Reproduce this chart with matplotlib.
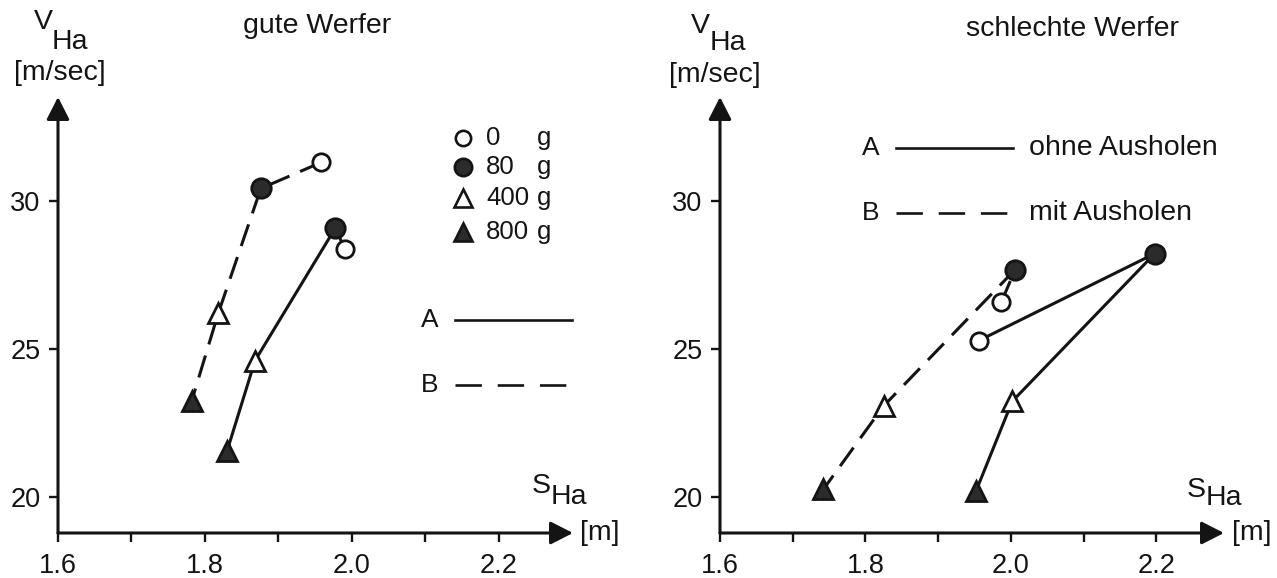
import matplotlib.pyplot as plt

plt.rcParams["font.family"] = ["Liberation Sans", "DejaVu Sans"]
plt.rcParams["font.size"] = 20.5

INK = "#141414"
DARK = "#2b2b2b"

# Zusatzgewichte (g) in der Reihenfolge der Messpunkte
weights = [0, 80, 400, 800]

# gute Werfer: Weg S_Ha [m] und Geschwindigkeit V_Ha [m/sec]
gute_a_s = [1.991, 1.977, 1.868, 1.830]
gute_a_v = [28.36, 29.07, 24.60, 21.55]
gute_b_s = [1.958, 1.876, 1.818, 1.782]
gute_b_v = [31.30, 30.42, 26.20, 23.25]

# schlechte Werfer
schlechte_a_s = [1.956, 2.198, 2.002, 1.952]
schlechte_a_v = [25.28, 28.22, 23.23, 20.19]
schlechte_b_s = [1.987, 2.006, 1.825, 1.742]
schlechte_b_v = [26.58, 27.68, 23.07, 20.25]

x_ticks = [1.6, 1.7, 1.8, 1.9, 2.0, 2.1, 2.2]
x_labels = ["1.6", "", "1.8", "", "2.0", "", "2.2"]
y_ticks = [20, 25, 30]

# marker style per weight: (shape, face colour, size)
marker_style = {
    0: ("o", "white", 12.5),
    80: ("o", DARK, 14),
    400: ("^", "white", 14),
    800: ("^", DARK, 14),
}

DASH = (7.5, 3.8)

W, H = 1277, 578
fig = plt.figure(figsize=(W / 100, H / 100), dpi=100)
fig.patch.set_facecolor("white")


def fx(px):
    return px / W


def fy(py):
    return 1 - py / H


def setup_axes(ax, xmax):
    ax.set_xlim(1.6, xmax)
    ax.set_ylim(18.78, 33.51)
    for side in ax.spines.values():
        side.set_visible(False)
    arrow = dict(arrowstyle="-|>,head_length=0.55,head_width=0.28",
                 lw=2.2, color=INK, shrinkA=0, shrinkB=0, mutation_scale=25)
    ax.annotate("", xy=(1, 0), xytext=(0, 0), xycoords="axes fraction",
                arrowprops=arrow, annotation_clip=False)
    ax.annotate("", xy=(0, 1), xytext=(0, 0), xycoords="axes fraction",
                arrowprops=arrow, annotation_clip=False)
    ax.set_xticks(x_ticks)
    ax.set_xticklabels(x_labels)
    ax.set_yticks(y_ticks)
    ax.tick_params(direction="out", length=6.5, width=1.7, color=INK,
                   labelsize=19.5, labelcolor=INK)
    ax.tick_params(axis="x", pad=8)
    ax.tick_params(axis="y", pad=6)
    ax.patch.set_alpha(0)


def draw_series(ax, s, v, dashed):
    line, = ax.plot(s, v, color=INK, lw=2.2, zorder=2, clip_on=False)
    if dashed:
        line.set_dashes(DASH)
    for w, xs, ys in zip(weights, s, v):
        shape, face, size = marker_style[w]
        ax.plot(xs, ys, marker=shape, ms=size, mfc=face, mec=INK, mew=2.0,
                ls="none", zorder=3, clip_on=False)


def axis_titles(vx, vy, hx, hy, unit_x, unit_y, sx, sy, sub_x, sub_y, mx):
    fig.text(fx(vx), fy(vy), "V", ha="left", va="center", color=INK)
    fig.text(fx(hx), fy(hy), "Ha", ha="left", va="center", color=INK)
    fig.text(fx(unit_x), fy(unit_y), "[m/sec]", ha="center", va="center", color=INK)
    fig.text(fx(sx), fy(sy), "S", ha="left", va="center", color=INK)
    fig.text(fx(sub_x), fy(sub_y), "Ha", ha="left", va="center", color=INK)
    fig.text(fx(mx), fy(533), "[m]", ha="left", va="center", color=INK)


# ---- gute Werfer ----
ax_l = fig.add_axes([fx(58), 45 / H, 515 / W, 436 / H])
setup_axes(ax_l, 1.6 + 515 / 735)
draw_series(ax_l, gute_b_s, gute_b_v, dashed=True)
draw_series(ax_l, gute_a_s, gute_a_v, dashed=False)
fig.text(fx(317), fy(26), "gute Werfer", ha="center", va="center", color=INK)
axis_titles(34, 22, 52, 42, 60, 73, 532, 486, 551, 497, 580)

# weight key
key_rows = [138, 167, 198, 232]
for w, py in zip(weights, key_rows):
    shape, face, size = marker_style[w]
    ax_l.plot([(463 - 58) / 515], [(533 - py) / 436], marker=shape, ms=size - 1.5,
              mfc=face, mec=INK, mew=1.9, transform=ax_l.transAxes, clip_on=False)
    fig.text(fx(486), fy(py), str(w), ha="left", va="center", color=INK, fontsize=18.5)
    fig.text(fx(537), fy(py), "g", ha="left", va="center", color=INK, fontsize=18.5)

# line key A / B
for label, py, dashed in [("A", 320, False), ("B", 385, True)]:
    fig.text(fx(430), fy(py), label, ha="center", va="center", color=INK, fontsize=19)
    ln, = ax_l.plot([(455 - 58) / 515, (572 - 58) / 515], [(533 - py) / 436] * 2,
                    color=INK, lw=1.9, transform=ax_l.transAxes, clip_on=False)
    if dashed:
        ln.set_dashes((10, 6))

# ---- schlechte Werfer ----
ax_r = fig.add_axes([fx(720), 45 / H, 504 / W, 436 / H])
setup_axes(ax_r, 1.6 + 504 / 727)
draw_series(ax_r, schlechte_b_s, schlechte_b_v, dashed=True)
draw_series(ax_r, schlechte_a_s, schlechte_a_v, dashed=False)
fig.text(fx(1072), fy(29), "schlechte Werfer", ha="center", va="center", color=INK)
axis_titles(691, 26, 710, 43, 715, 75, 1187, 490, 1206, 498, 1232)

for label, text, py, dashed in [("A", "ohne Ausholen", 148, False),
                                ("B", "mit Ausholen", 213, True)]:
    fig.text(fx(871), fy(py), label, ha="center", va="center", color=INK, fontsize=19)
    ln, = ax_r.plot([(896 - 720) / 504, (1013 - 720) / 504], [(533 - py) / 436] * 2,
                    color=INK, lw=1.9, transform=ax_r.transAxes, clip_on=False)
    if dashed:
        ln.set_dashes((10, 6))
    fig.text(fx(1029), fy(py), text, ha="left", va="center", color=INK)

fig.savefig("out.png", dpi=100, facecolor="white")
